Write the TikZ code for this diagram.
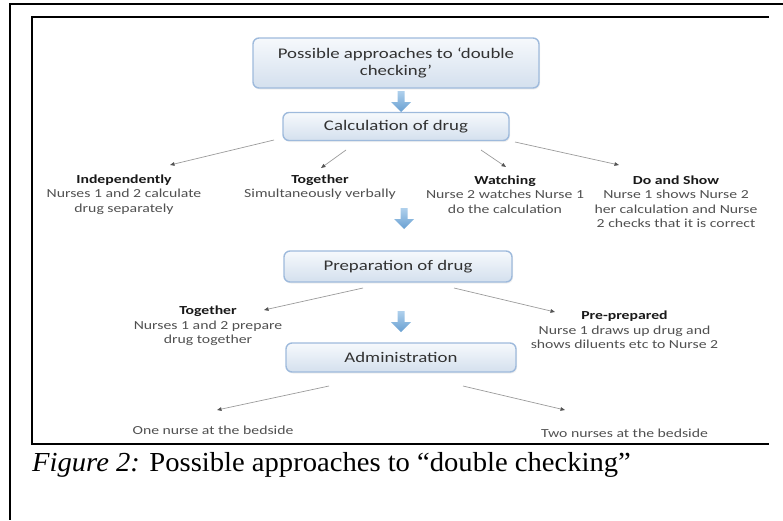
\documentclass[tikz,border=0pt]{standalone}
\usepackage{fontspec}
\setmainfont{Carlito}
\newfontfamily\labfont[FakeStretch=1.28]{Carlito}
\newfontfamily\capfont[FakeStretch=1.04]{Liberation Serif}
\usetikzlibrary{arrows.meta,shadows}

\definecolor{boxborder}{RGB}{158,186,220}
\definecolor{boxtop}{RGB}{246,249,252}
\definecolor{boxbot}{RGB}{212,224,238}
\definecolor{arrowtop}{RGB}{175,208,236}
\definecolor{arrowbot}{RGB}{105,160,210}
\definecolor{labgray}{RGB}{80,80,80}
\definecolor{labdark}{RGB}{25,25,25}
\definecolor{boxtext}{RGB}{50,50,50}
\definecolor{connline}{RGB}{155,155,155}
\definecolor{conntip}{RGB}{85,85,85}

\begin{document}
\begin{tikzpicture}[x=1pt,y=-1pt,
  box/.style={draw=boxborder, line width=1.4pt, rounded corners=6pt,
    top color=boxtop, bottom color=boxbot,
    font={\labfont\fontsize{14.7}{16.7}\selectfont}, text=boxtext,
    align=center, inner sep=0pt,
    drop shadow={opacity=0.12, shadow xshift=1pt, shadow yshift=-1.5pt}},
  lab/.style={font={\labfont\fontsize{12.3}{14.5}\selectfont}, text=labgray,
    align=center, inner sep=0pt},
  conn/.style={draw=connline, line width=0.7pt,
    -{Triangle[length=4.5pt,width=3.6pt,color=conntip]}},
  frame/.style={line width=2pt, draw=black},
  bluearrow/.pic={\shade[top color=arrowtop,bottom color=arrowbot]
    (-3.5,0) -- (3.5,0) -- (3.5,11) -- (10,11) -- (0,21) -- (-10,11) -- (-3.5,11) -- cycle;}
]
\useasboundingbox (0,0) rectangle (783,520);

% frames
\draw[frame] (783,4) -- (10,4) -- (10,520);
\draw[frame] (769,17) -- (32,17) -- (32,444) -- (769,444);

% boxes
\node[box, minimum width=286pt, minimum height=50pt] (top) at (396,63)
  {Possible approaches to ‘double\\checking’};
\node[box, minimum width=226pt, minimum height=28pt] (calc) at (396,126.5)
  {Calculation of drug};
\node[box, minimum width=228pt, minimum height=31pt] (prep) at (398,266.5)
  {Preparation of drug};
\node[box, minimum width=230pt, minimum height=29pt] (admin) at (401,357.5)
  {Administration};

% blue arrows
\pic at (401,91) {bluearrow};
\pic at (404,208) {bluearrow};
\pic at (401,311) {bluearrow};

% labels
\node[lab] (indep) at (124,194.3)
  {{\bfseries\color{labdark}Independently}\\Nurses 1 and 2 calculate\\drug separately};
\node[lab] (tog1) at (320,187)
  {{\bfseries\color{labdark}Together}\\Simultaneously verbally};
\node[lab] (watch) at (505,194.3)
  {{\bfseries\color{labdark}Watching}\\Nurse 2 watches Nurse 1\\do the calculation};
\node[lab] (doshow) at (676,201.5)
  {{\bfseries\color{labdark}Do and Show}\\Nurse 1 shows Nurse 2\\her calculation and Nurse\\2 checks that it is correct};
\node[lab] (tog2) at (208,326)
  {{\bfseries\color{labdark}Together}\\Nurses 1 and 2 prepare\\drug together};
\node[lab] (prepd) at (624.5,330)
  {{\bfseries\color{labdark}Pre-prepared}\\Nurse 1 draws up drug and\\shows diluents etc to Nurse 2};
\node[lab] (one) at (213,430) {One nurse at the bedside};
\node[lab] (two) at (624.5,433) {Two nurses at the bedside};

% connectors
\coordinate (c1s) at (274,140);  \coordinate (c1e) at (170,165);
\coordinate (c2s) at (346,150);  \coordinate (c2e) at (321,168);
\coordinate (c3s) at (481,150);  \coordinate (c3e) at (506,167);
\coordinate (c4s) at (515,142);  \coordinate (c4e) at (619,165);
\coordinate (p1s) at (363,288);  \coordinate (p1e) at (264,310);
\coordinate (p2s) at (454,288);  \coordinate (p2e) at (555,312);
\coordinate (a1s) at (329,386);  \coordinate (a1e) at (217,410);
\coordinate (a2s) at (463,386);  \coordinate (a2e) at (565,410);
\draw[conn] (c1s) -- (c1e);
\draw[conn] (c2s) -- (c2e);
\draw[conn] (c3s) -- (c3e);
\draw[conn] (c4s) -- (c4e);
\draw[conn] (p1s) -- (p1e);
\draw[conn] (p2s) -- (p2e);
\draw[conn] (a1s) -- (a1e);
\draw[conn] (a2s) -- (a2e);

% caption
\node[anchor=base west, inner sep=0pt, font={\capfont\fontsize{27.5}{32}\selectfont}] (cap) at (32,471)
  {\textit{Figure 2:} Possible approaches to “double checking”};
\end{tikzpicture}
\end{document}
